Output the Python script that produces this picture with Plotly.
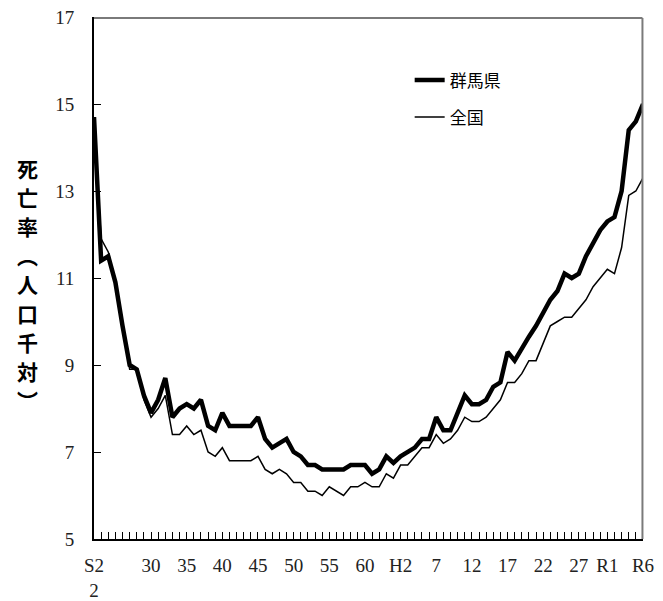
import plotly.graph_objects as go

years = list(range(1947, 2025))

gunma = [14.7, 11.4, 11.5, 10.9, 9.9, 9.0, 8.9, 8.3, 7.9, 8.2,
         8.7, 7.8, 8.0, 8.1, 8.0, 8.2, 7.6, 7.5, 7.9, 7.6,
         7.6, 7.6, 7.6, 7.8, 7.3, 7.1, 7.2, 7.3, 7.0, 6.9,
         6.7, 6.7, 6.6, 6.6, 6.6, 6.6, 6.7, 6.7, 6.7, 6.5,
         6.6, 6.9, 6.75, 6.9, 7.0, 7.1, 7.3, 7.3, 7.8, 7.5,
         7.5, 7.9, 8.3, 8.1, 8.1, 8.2, 8.5, 8.6, 9.3, 9.1,
         9.4, 9.65, 9.9, 10.2, 10.5, 10.7, 11.1, 11.0, 11.1, 11.5,
         11.8, 12.1, 12.3, 12.4, 13.0, 14.4, 14.6, 15.0]

national = [14.6, 11.9, 11.6, 10.9, 9.9, 8.9, 8.9, 8.2, 7.8, 8.0,
            8.3, 7.4, 7.4, 7.6, 7.4, 7.5, 7.0, 6.9, 7.1, 6.8,
            6.8, 6.8, 6.8, 6.9, 6.6, 6.5, 6.6, 6.5, 6.3, 6.3,
            6.1, 6.1, 6.0, 6.2, 6.1, 6.0, 6.2, 6.2, 6.3, 6.2,
            6.2, 6.5, 6.4, 6.7, 6.7, 6.9, 7.1, 7.1, 7.4, 7.2,
            7.3, 7.5, 7.8, 7.7, 7.7, 7.8, 8.0, 8.2, 8.6, 8.6,
            8.8, 9.1, 9.1, 9.5, 9.9, 10.0, 10.1, 10.1, 10.3, 10.5,
            10.8, 11.0, 11.2, 11.1, 11.7, 12.9, 13.0, 13.3]

tick_years = [1947, 1955, 1960, 1965, 1970, 1975, 1980, 1985, 1990,
              1995, 2000, 2005, 2010, 2015, 2019, 2024]
tick_labels = ["S2<br>2", "30", "35", "40", "45", "50", "55", "60", "H2",
               "7", "12", "17", "22", "27", "R1", "R6"]

y_ticks = [5, 7, 9, 11, 13, 15, 17]

y_title_chars = ["死", "亡", "率", "︵", "人", "口", "千", "対", "︶"]

serif = "Liberation Serif"
sans = "Noto Sans CJK JP"

fig = go.Figure()
fig.add_trace(go.Scatter(x=years, y=national, mode="lines", name="全国",
                         line=dict(color="black", width=1.5), legendgroup="b",
                         legendrank=2))
fig.add_trace(go.Scatter(x=years, y=gunma, mode="lines", name="群馬県",
                         line=dict(color="black", width=4.5), legendgroup="a",
                         legendrank=1))

# the page adds an 8px body margin, so the figure is 8px smaller
fig.update_layout(
    width=655, height=593,
    margin=dict(l=86, r=20, t=9, b=62),
    plot_bgcolor="white", paper_bgcolor="white",
    showlegend=True,
    legend=dict(x=0.575, y=0.913, xanchor="left", yanchor="top",
                font=dict(family=sans, size=17, color="black"),
                bgcolor="rgba(0,0,0,0)", traceorder="grouped",
                tracegroupgap=12, itemwidth=30),
    xaxis=dict(range=[1947, 2024], tickmode="array", tickvals=tick_years,
               ticktext=tick_labels, ticks="inside", ticklen=7,
               tickcolor="black", tickwidth=1, automargin=False,
               showline=True, linecolor="black", linewidth=2,
               showgrid=False, zeroline=False, ticklabeloverflow="allow",
               tickfont=dict(family=serif, size=19, color="#222"),
               ticklabelstandoff=8,
               minor=dict(tickmode="linear", tick0=1947, dtick=1,
                          ticks="inside", ticklen=7, tickcolor="black",
                          tickwidth=1, showgrid=False)),
    yaxis=dict(range=[5, 17], tickmode="array", tickvals=y_ticks,
               ticks="inside", ticklen=7, tickcolor="black", tickwidth=1,
               showline=True, linecolor="black", linewidth=2,
               showgrid=False, zeroline=False, automargin=False,
               ticklabeloverflow="allow",
               tickfont=dict(family=serif, size=19, color="#222"),
               ticklabelstandoff=14),
)

# gray top and right frame lines, drawn just inside the plot edge
fig.add_shape(type="line", xref="paper", yref="paper",
              x0=0, x1=0.999, y0=0.998, y1=0.998,
              layer="above", line=dict(color="#7a7a7a", width=2))
fig.add_shape(type="line", xref="paper", yref="paper",
              x0=0.999, x1=0.999, y0=0, y1=0.998,
              layer="above", line=dict(color="#7a7a7a", width=2))

# vertical axis title, one character per line (page px -> paper coords)
plot_top_px, plot_h_px = 9, 522
for i, ch in enumerate(y_title_chars):
    page_y = 168 + 29 * i
    fig_y = page_y - 8
    fig.add_annotation(xref="paper", yref="paper", x=-0.122,
                       y=1 - (fig_y - plot_top_px) / plot_h_px,
                       text="<b>" + ch + "</b>", showarrow=False,
                       xanchor="center", yanchor="middle",
                       font=dict(family=sans, size=21, color="black"))

fig.write_html("out.html")
